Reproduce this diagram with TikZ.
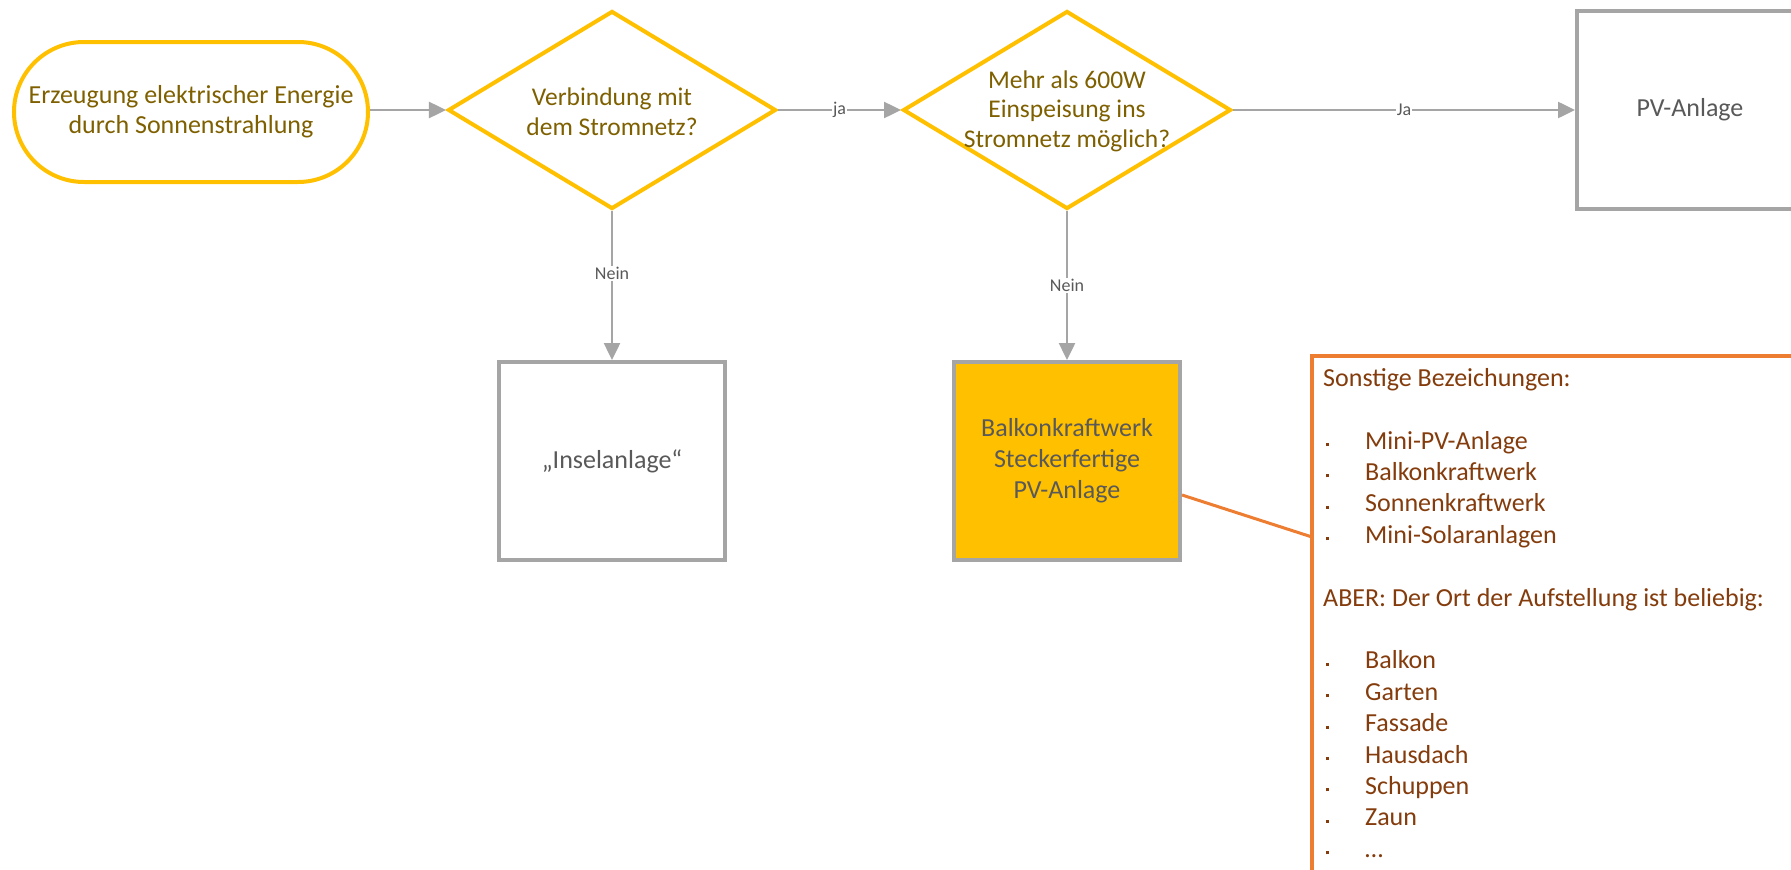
\documentclass[tikz,border=0pt]{standalone}
\usepackage{fontspec}
\setmainfont{Carlito}
\usetikzlibrary{arrows.meta,shapes.geometric,calc}
\definecolor{cgold}{HTML}{FFC000}
\definecolor{colive}{HTML}{7F6000}
\definecolor{cboxgray}{HTML}{A5A5A5}
\definecolor{ctxtgray}{HTML}{595959}
\definecolor{corange}{HTML}{ED7D31}
\definecolor{cnotetext}{HTML}{843C0C}
\newcommand\blt{\makebox[42pt][l]{\hspace{3pt}\rule[3pt]{3pt}{3pt}}}
\begin{document}
\begin{tikzpicture}[x=1pt,y=-1pt,
  term/.style={draw=cgold, line width=4pt, rounded corners=70pt, minimum width=354pt, minimum height=140pt, text=colive, align=center, font=\fontsize{26}{30}\selectfont, fill=white},
  dec/.style={diamond, draw=cgold, line width=4pt, minimum width=328pt, minimum height=198pt, inner sep=0pt, aspect=1.66},
  dectext/.style={text=colive, align=center, font=\fontsize{25.5}{30}\selectfont},
  proc/.style={draw=cboxgray, line width=4pt, minimum width=226pt, minimum height=198pt, text=ctxtgray, align=center, font=\fontsize{26}{31}\selectfont},
  flow/.style={draw=cboxgray, line width=2.5pt, -{Triangle[length=17pt,width=16pt]}},
  lbl/.style={fill=white, text=ctxtgray, font=\fontsize{18}{20}\selectfont, inner sep=1pt}
]
\clip (0,0) rectangle (1791,870);
\fill[white] (0,0) rectangle (1791,870);

\node[term] (start) at (191,112) {Erzeugung elektrischer Energie\\durch Sonnenstrahlung};

\node[dec] (d1) at (612,110) {};
\node[dectext] (d1t) at (612,112) {Verbindung mit\\dem Stromnetz?};

\node[dec] (d2) at (1067,110) {};
\node[dectext, font=\fontsize{25.5}{29.5}\selectfont] (d2t) at (1067,111) {Mehr als 600W\\Einspeisung ins\\Stromnetz möglich?};

\node[proc] (pv) at (1690,110) {PV-Anlage};
\node[proc] (insel) at (612,461) {„Inselanlage“};
\node[proc, fill=cgold] (balk) at (1067,461) {Balkonkraftwerk\\Steckerfertige\\PV-Anlage};

\draw[flow] (start.east |- d1) -- (d1);
\draw[flow] (d1) -- node[lbl]{ja} (d2);
\draw[flow] (d2) -- node[lbl]{Ja} (pv);
\draw[flow] (d1) -- node[lbl,pos=0.42]{Nein} (insel);
\draw[flow] (d2) -- node[lbl]{Nein} (balk);

\node[draw=corange, line width=4pt, minimum width=540pt, minimum height=560pt, anchor=north west, inner sep=0pt, outer sep=0pt] (note) at (1312,356) {};
\draw[corange, line width=3pt] ([yshift=-34pt]balk.east) -- (note.west |- 0,537);

\node[anchor=north west, align=left, text=cnotetext, font=\fontsize{26}{31.4}\selectfont, inner sep=0pt] (nt) at (1323,368) {Sonstige Bezeichungen:\\
\mbox{}\\
\blt Mini-PV-Anlage\\
\blt Balkonkraftwerk\\
\blt Sonnenkraftwerk\\
\blt Mini-Solaranlagen\\
\mbox{}\\
ABER: Der Ort der Aufstellung ist beliebig:\\
\mbox{}\\
\blt Balkon\\
\blt Garten\\
\blt Fassade\\
\blt Hausdach\\
\blt Schuppen\\
\blt Zaun\\
\blt …};
\end{tikzpicture}
\end{document}
